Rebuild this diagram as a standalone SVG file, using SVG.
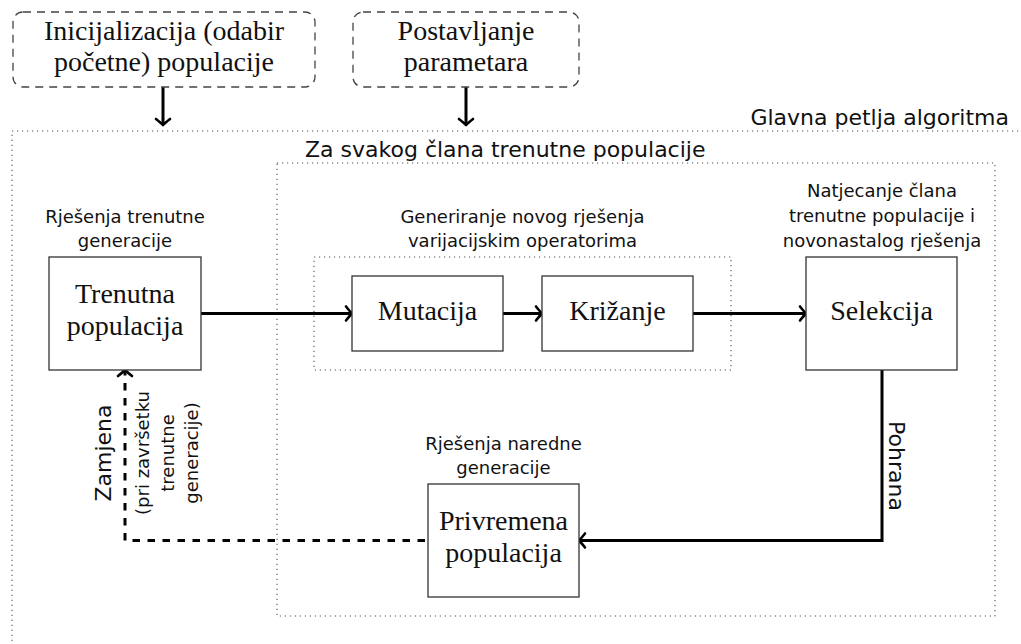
<svg xmlns="http://www.w3.org/2000/svg" width="1021" height="644" viewBox="0 0 1021 644">
<style>
.serif{font-family:"Liberation Serif","Times New Roman",serif;font-size:28px;fill:#111;text-anchor:middle}
.sans{font-family:"DejaVu Sans","Liberation Sans",sans-serif;font-size:22px;fill:#111}
.small{font-family:"DejaVu Sans","Liberation Sans",sans-serif;font-size:18px;fill:#111;text-anchor:middle}
.box{fill:#fff;stroke:#333;stroke-width:1.3}
.dbox{fill:none;stroke:#444;stroke-width:1.3;stroke-dasharray:8 6}
.dot{fill:none;stroke:#555;stroke-width:1.1;stroke-dasharray:1.2 3.8}
.conn{fill:none;stroke:#000;stroke-width:3;marker-end:url(#arr)}
.dash{stroke-dasharray:7.5 7.5}
</style>
<defs>
<marker id="arr" markerUnits="userSpaceOnUse" markerWidth="20" markerHeight="20" viewBox="-10 -10 20 20" refX="0" refY="0" orient="auto">
<path d="M -6 -7 Q -2 -2 0 0 Q -2 2 -6 7" fill="none" stroke="#000" stroke-width="2.6" stroke-linecap="round" stroke-linejoin="round"/>
</marker>
</defs>

<g id="regions">
<rect class="dot" x="12" y="131" width="1030" height="540"/>
<text class="sans" x="1009" y="125" text-anchor="end">Glavna petlja algoritma</text>
<rect class="dot" x="277" y="163" width="718" height="453"/>
<text class="sans" x="305" y="157">Za svakog člana trenutne populacije</text>
<rect class="dot" x="314" y="257" width="417" height="113"/>
</g>

<g id="connectors">
<path class="conn" d="M 163 87 V 125"/>
<path class="conn" d="M 466 87 V 125"/>
<path class="conn" d="M 201 313.5 H 352"/>
<path class="conn" d="M 503 313.5 H 542"/>
<path class="conn" d="M 693 313.5 H 806"/>
<path class="conn" d="M 882 370 V 540.5 H 579"/>
<path class="conn dash" d="M 425 540.5 H 125 V 370"/>
<text class="sans" transform="translate(111,453) rotate(-90)" text-anchor="middle">Zamjena</text>
<text class="small" transform="translate(149,453) rotate(-90)">(pri završetku</text>
<text class="small" transform="translate(173.5,453) rotate(-90)">trenutne</text>
<text class="small" transform="translate(198,453) rotate(-90)">generacije)</text>
<text class="sans" transform="translate(889,466) rotate(90)" text-anchor="middle">Pohrana</text>
</g>

<g id="init">
<rect class="dbox" x="13" y="12" width="302" height="75" rx="10"/>
<text class="serif" x="164" y="40">Inicijalizacija (odabir</text>
<text class="serif" x="164" y="71">početne) populacije</text>
</g>

<g id="params">
<rect class="dbox" x="353" y="12" width="226" height="75" rx="10"/>
<text class="serif" x="466" y="40">Postavljanje</text>
<text class="serif" x="466" y="71">parametara</text>
</g>

<g id="trenutna">
<text class="small" x="125" y="223">Rješenja trenutne</text>
<text class="small" x="125" y="247">generacije</text>
<rect class="box" x="49" y="257" width="152" height="113"/>
<text class="serif" x="125" y="303">Trenutna</text>
<text class="serif" x="125" y="335">populacija</text>
</g>

<g id="generiranje">
<text class="small" x="522.5" y="223">Generiranje novog rješenja</text>
<text class="small" x="522.5" y="247">varijacijskim operatorima</text>
</g>

<g id="mutacija">
<rect class="box" x="352" y="276" width="151" height="75"/>
<text class="serif" x="427.5" y="320">Mutacija</text>
</g>

<g id="krizanje">
<rect class="box" x="542" y="276" width="151" height="75"/>
<text class="serif" x="617.5" y="320">Križanje</text>
</g>

<g id="selekcija">
<text class="small" x="882" y="197">Natjecanje člana</text>
<text class="small" x="882" y="222">trenutne populacije i</text>
<text class="small" x="882" y="247">novonastalog rješenja</text>
<rect class="box" x="806" y="257" width="151" height="113"/>
<text class="serif" x="881.5" y="320">Selekcija</text>
</g>

<g id="privremena">
<text class="small" x="503.5" y="450">Rješenja naredne</text>
<text class="small" x="503.5" y="474">generacije</text>
<rect class="box" x="428" y="484" width="151" height="113"/>
<text class="serif" x="503.5" y="530">Privremena</text>
<text class="serif" x="503.5" y="562">populacija</text>
</g>
</svg>
